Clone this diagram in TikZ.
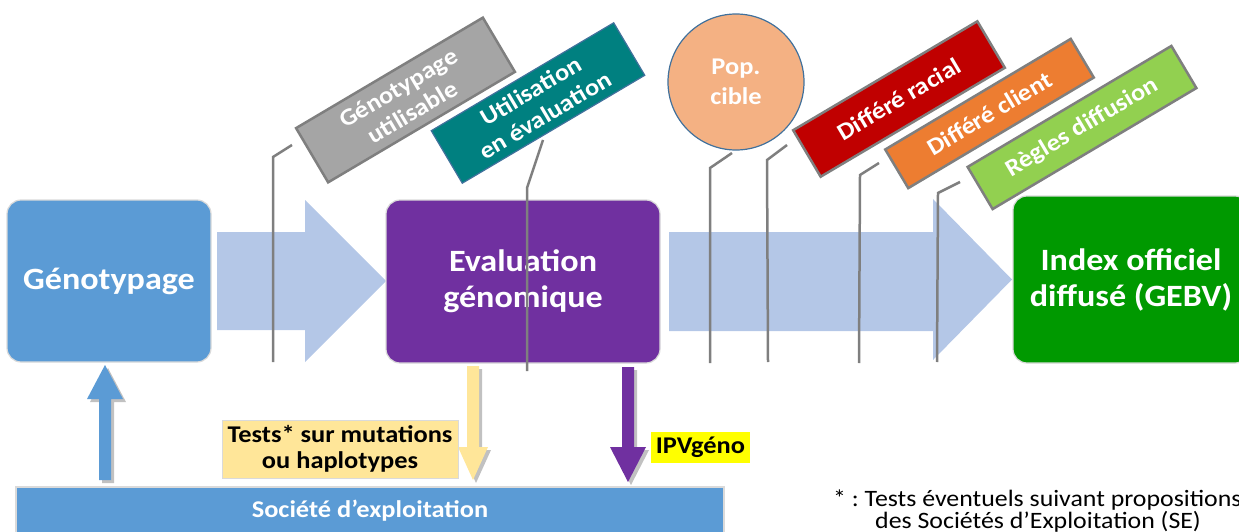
\documentclass[tikz,border=0pt]{standalone}
\usepackage{fontspec}
\setmainfont[FakeStretch=1.1]{Carlito}
\usetikzlibrary{shadows}
\frenchspacing
\definecolor{cBlue}{HTML}{5B9BD5}
\definecolor{cLight}{HTML}{B4C7E7}
\definecolor{cPurple}{HTML}{7030A0}
\definecolor{cGreen}{HTML}{009900}
\definecolor{cGrayBox}{HTML}{A5A5A5}
\definecolor{cLine}{HTML}{7F7F7F}
\definecolor{cTeal}{HTML}{008080}
\definecolor{cTealB}{HTML}{41719C}
\definecolor{cRed}{HTML}{C00000}
\definecolor{cOrange}{HTML}{ED7D31}
\definecolor{cLGreen}{HTML}{92D050}
\definecolor{cPeach}{HTML}{F4B183}
\definecolor{cYellowL}{HTML}{FFE699}
\definecolor{cYellow}{HTML}{FFFF00}
\definecolor{cRing}{HTML}{DADADA}
\begin{document}
\begin{tikzpicture}[x=1pt,y=-1pt,
  mainbox/.style={rounded corners=14pt, draw=cRing, line width=1.2pt, text=white,
    font=\bfseries\fontsize{31}{36}\selectfont, align=center, inner sep=0pt},
  rotbox/.style={draw=cLine, line width=2.5pt, text=white,
    font=\bfseries\fontsize{24}{28}\selectfont, align=center, inner sep=0pt},
  leader/.style={draw=cLine, line width=2.5pt},
  blockarrow/.style={fill=cLight},
  ashadow/.style={drop shadow={shadow xshift=3pt, shadow yshift=-3pt, opacity=0.35, fill=black!70}},
  labelbox/.style={font=\bfseries\fontsize{24}{26}\selectfont, align=center, inner sep=0pt, text=black}
]
\clip (0,0) rectangle (1239,532);
\useasboundingbox (0,0) rectangle (1239,532);

% big block arrows
\path[blockarrow] (217,232) -- (305,232) -- (305,200) -- (386,281) -- (305,362) -- (305,330) -- (217,330) -- cycle;
\path[blockarrow] (669,232) -- (933,232) -- (933,199) -- (1012,279.5) -- (933,360) -- (933,331) -- (669,331) -- cycle;

% main boxes
\node[mainbox, fill=cBlue, minimum width=204, minimum height=162] (geno) at (109,281) {Génotypage};
\node[mainbox, fill=cPurple, minimum width=274, minimum height=163] (eval) at (523,281.5) {Evaluation\\génomique};
\node[mainbox, fill=cGreen, minimum width=236, minimum height=167] (index) at (1131,279.5) {Index officiel\\diffusé (GEBV)};

% leader lines
\coordinate (l1b) at (273,362); \coordinate (l1k) at (273,157); \coordinate (l1t) at (292,145);
\coordinate (l2b) at (527,371); \coordinate (l2k) at (527,188); \coordinate (l2t) at (543,140);
\coordinate (l3b) at (710,363); \coordinate (l3k) at (710,168); \coordinate (l3t) at (732,153);
\coordinate (l4b) at (768,362); \coordinate (l4k) at (767,160); \coordinate (l4t) at (787,145);
\coordinate (l5b) at (859,363); \coordinate (l5k) at (860,175); \coordinate (l5t) at (879,163);
\coordinate (l6b) at (937,362); \coordinate (l6k) at (938,193); \coordinate (l6t) at (960,182);
\draw[leader] (l1b) -- (l1k) -- (l1t);
\draw[leader] (l2b) -- (l2k) -- (l2t);
\draw[leader] (l3b) -- (l3k) -- (l3t);
\draw[leader] (l4b) -- (l4k) -- (l4t);
\draw[leader] (l5b) -- (l5k) -- (l5t);
\draw[leader] (l6b) -- (l6k) -- (l6t);

% rotated tags
\node[rotbox, fill=cGrayBox, minimum width=217, minimum height=63, rotate=30.6] (gu) at (405.5,100) {Génotypage\\utilisable};
\node[rotbox, fill=cTeal, draw=cTealB, line width=1.2pt, minimum width=212, minimum height=61, rotate=30.6] (ue) at (538,103) {Utilisation\\en évaluation};
\node[circle, fill=cPeach, draw=cTealB, line width=1.2pt, minimum size=136, inner sep=0pt, text=white,
  font=\bfseries\fontsize{24}{30}\selectfont, align=center] (pop) at (736,82) {Pop.\\cible};
\node[rotbox, fill=cRed, minimum width=214, minimum height=54, rotate=30.6] (dr) at (899,99) {Différé racial};
\node[rotbox, fill=cOrange, minimum width=216, minimum height=45, rotate=30.8] (dc) at (989.5,113.5) {Différé client};
\node[rotbox, fill=cLGreen, minimum width=237, minimum height=49, rotate=30.7] (rd) at (1082,127.5) {Règles diffusion};

% vertical arrows
\path[fill=cBlue, ashadow] (99,480) -- (99,399) -- (87,399) -- (105,365) -- (123,399) -- (111,399) -- (111,480) -- cycle;
\path[fill=cYellowL, ashadow] (467,366) -- (479,366) -- (479,447) -- (488,447) -- (473,480) -- (458,447) -- (467,447) -- cycle;
\path[fill=cPurple, ashadow] (622,367) -- (634,367) -- (634,447) -- (646,447) -- (628,482) -- (610,447) -- (622,447) -- cycle;

% bottom boxes
\node[labelbox, fill=cYellowL, draw=cRing, line width=1pt, minimum width=236, minimum height=58] (tests) at (340,449) {Tests* sur mutations\\ou haplotypes};
\node[labelbox, fill=cYellow, minimum width=99, minimum height=31] (ipv) at (700.5,447.5) {IPVgéno};
\node[fill=cBlue, draw=cRing, line width=1.2pt, minimum width=708, minimum height=48, inner sep=0pt,
  text=white, font=\bfseries\fontsize{24}{26}\selectfont] (se) at (370,511) {Société d’exploitation};

% footnote
\node[anchor=west, inner sep=0pt, font=\fontsize{23.5}{23.5}\selectfont] (fn1) at (833,500) {* : Tests éventuels suivant propositions};
\node[anchor=west, inner sep=0pt, font=\fontsize{23.5}{23.5}\selectfont] (fn2) at (875,522) {des Sociétés d’Exploitation (SE)};
\end{tikzpicture}
\end{document}
